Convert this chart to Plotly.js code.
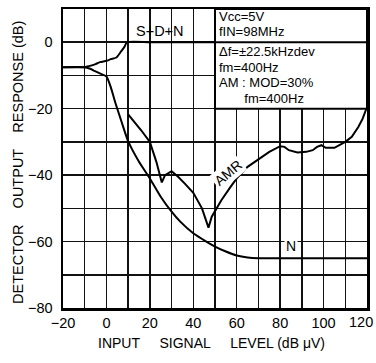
<!DOCTYPE html>
<html>
<head>
<meta charset="utf-8">
<script src="https://cdn.plot.ly/plotly-3.0.1.min.js"></script>
<style>html,body{margin:0;padding:0;background:#fff;}#chart{width:376px;height:363px;}</style>
</head>
<body>
<div id="chart"></div>
<script>
// Input signal level (dBμV) and detector output response (dB)
var sdnX = [-20, -10, -8, -5, -3, 0, 2, 4.6, 6.7, 8.3, 9.5, 20, 30, 40, 50, 60, 70, 80, 90, 100, 110, 120];
var sdnY = [-7.5, -7.5, -7.2, -6.6, -6.0, -5.6, -5.1, -4.6, -2.8, -1.4, 0, 0, 0, 0, 0, 0, 0, 0, 0, 0, 0, 0];

var nX = [-20, -10, -7.5, -5, -2, 0, 2, 4, 7, 10, 15, 20, 25, 30, 34, 40, 46, 50, 55, 60, 65, 70, 80, 90, 100, 110, 120];
var nY = [-7.5, -7.5, -8, -8.8, -9.7, -10.3, -13.5, -18, -24, -29.8, -36, -41, -46.5, -51, -54, -57.5, -60, -61.5, -63, -64.2, -64.8, -65, -65, -65, -65, -65, -65];

var amrX = [10, 13, 16, 20, 23, 25.5, 27, 30, 33, 36, 40, 44, 47, 48.5, 50, 53, 57, 60, 65, 70, 75, 80, 82, 84, 88, 92, 95, 97, 99, 101, 105, 110, 113, 116, 118, 120];
var amrY = [-21.7, -24, -26.5, -30, -36, -42.2, -40, -38.8, -40.5, -42.5, -45.3, -50, -55.8, -52.5, -50.8, -47.5, -43.7, -41, -37.5, -35.2, -33, -31.3, -31.5, -32.5, -33.2, -33, -32.5, -31.5, -31, -31.8, -31.8, -30, -28.5, -25.5, -23, -19.5];

var xTickVals = [-20, -10, 0, 10, 20, 30, 40, 50, 60, 70, 80, 90, 100, 110, 120];
var xTickText = ['\u221220', '', '0', '', '20', '', '40', '', '60', '', '80', '', '100', '', ''];
var xLastLabel = '120';
var yTickVals = [-80, -70, -60, -50, -40, -30, -20, -10, 0, 10];
var yTickText = ['\u221280', '', '\u221260', '', '\u221240', '', '\u221220', '', '0', ''];

var boxLines = ['Vcc=5V', 'fIN=98MHz', '\u0394f=\u00B122.5kHzdev', 'fm=400Hz', 'AM : MOD=30%', '\u00A0\u00A0\u00A0\u00A0\u00A0\u00A0\u00A0fm=400Hz'];
var boxLineY = [7.8, 3.3, -2.7, -7.6, -12.2, -16.8];

var FONT = 'Liberation Sans, Arial, Helvetica, sans-serif';
var lineStyle = {color: '#000', width: 2, shape: 'spline', smoothing: 0.6};

var traces = [
  {x: sdnX, y: sdnY, mode: 'lines', line: lineStyle, hoverinfo: 'skip', name: 'S+D+N'},
  {x: nX, y: nY, mode: 'lines', line: lineStyle, hoverinfo: 'skip', name: 'N'},
  {x: amrX, y: amrY, mode: 'lines', line: {color: '#000', width: 2, shape: 'linear'}, hoverinfo: 'skip', name: 'AMR'}
];

var annotations = [
  {x: 24.5, y: 3.3, xref: 'x', yref: 'y', text: 'S+D+N', showarrow: false, font: {family: FONT, size: 14.5, color: '#000'}},
  {x: 85, y: -61.2, xref: 'x', yref: 'y', text: 'N', showarrow: false, font: {family: FONT, size: 14, color: '#000'}, bgcolor: '#fff'},
  {x: 56, y: -39.5, xref: 'x', yref: 'y', text: 'AMR', textangle: -40, showarrow: false, font: {family: FONT, size: 14, color: '#000'}, bgcolor: '#fff'},
  {x: 1.0296, y: 0, xref: 'paper', yref: 'paper', xanchor: 'right', yanchor: 'middle', yshift: -14, xshift: -1,
   text: xLastLabel, showarrow: false, font: {family: FONT, size: 14.5, color: '#000'}},
  {x: 0.49, y: -0.118, xref: 'paper', yref: 'paper', xanchor: 'center', yanchor: 'middle',
   text: 'INPUT\u00A0\u00A0\u00A0\u00A0\u00A0SIGNAL\u00A0\u00A0\u00A0\u00A0\u00A0LEVEL (dB\u00A0\u03BCV)', showarrow: false,
   font: {family: FONT, size: 14, color: '#000'}},
  {x: -0.148, y: 0.485, xref: 'paper', yref: 'paper', xanchor: 'center', yanchor: 'middle', textangle: -90,
   text: 'DETECTOR\u00A0\u00A0\u00A0\u00A0OUTPUT\u00A0\u00A0\u00A0\u00A0RESPONSE (dB)', showarrow: false,
   font: {family: FONT, size: 14.5, color: '#000'}}
];
for (var i = 0; i < boxLines.length; i++) {
  annotations.push({x: 50.8, y: boxLineY[i], xref: 'x', yref: 'y', xanchor: 'left', yanchor: 'middle',
    text: boxLines[i], showarrow: false, font: {family: FONT, size: 13, color: '#000'}});
}

var layout = {
  width: 376, height: 363,
  margin: {l: 63, r: 9, t: 9, b: 55},
  paper_bgcolor: '#fff', plot_bgcolor: '#fff',
  showlegend: false,
  font: {family: FONT, size: 13, color: '#000'},
  xaxis: {
    range: [-20, 120], tickvals: xTickVals, ticktext: xTickText,
    showgrid: true, gridcolor: '#111', gridwidth: 1.5,
    zeroline: false, showline: true, linecolor: '#000', linewidth: 2.5, mirror: true,
    ticks: '', ticklabelstandoff: 0, fixedrange: true,
    tickfont: {family: FONT, size: 14.5, color: '#000'}
  },
  yaxis: {
    range: [-80, 10], tickvals: yTickVals, ticktext: yTickText,
    showgrid: true, gridcolor: '#111', gridwidth: 1.5,
    zeroline: false, showline: true, linecolor: '#000', linewidth: 2.5, mirror: true,
    ticks: '', ticklabelstandoff: 5, fixedrange: true,
    tickfont: {family: FONT, size: 14.5, color: '#000'}
  },
  shapes: [
    {type: 'rect', xref: 'x', yref: 'y', x0: 50, x1: 120, y0: -20, y1: 10, fillcolor: '#fff', line: {color: '#000', width: 2}, layer: 'above'},
    {type: 'line', xref: 'x', yref: 'y', x0: 50, x1: 120, y0: 0, y1: 0, line: {color: '#000', width: 2}, layer: 'above'}
  ],
  annotations: annotations
};

Plotly.newPlot('chart', traces, layout, {displayModeBar: false, staticPlot: true});
</script>
</body>
</html>
